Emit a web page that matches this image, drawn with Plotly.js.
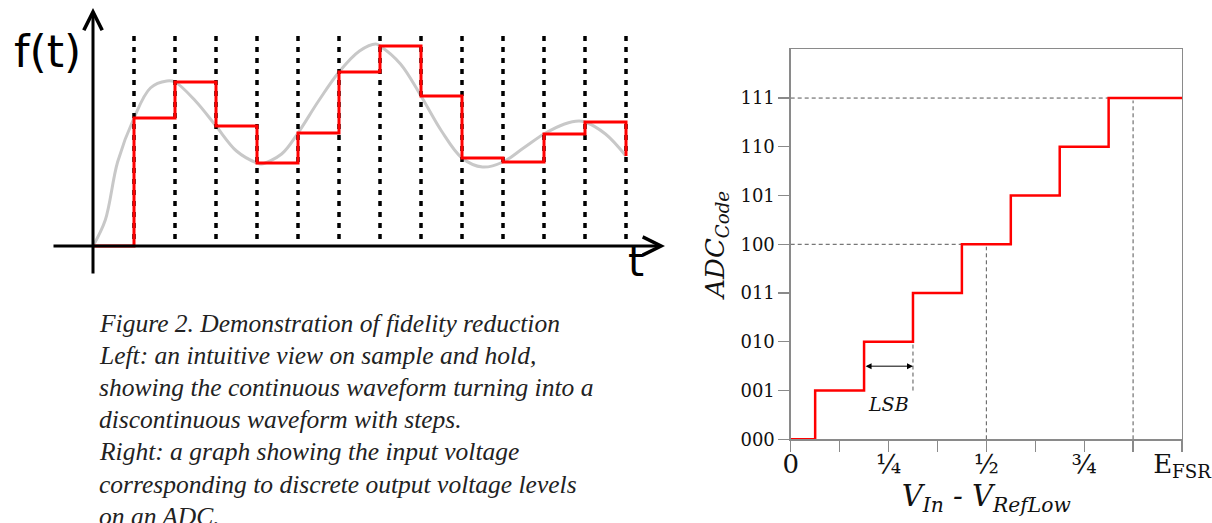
<!DOCTYPE html>
<html>
<head>
<meta charset="utf-8">
<script src="https://cdn.plot.ly/plotly-3.0.1.min.js"></script>
<style>html,body{margin:0;padding:0;background:#fff;}#chart{width:1212px;height:523px;}</style>
</head>
<body>
<div id="chart"></div>
<script>
// ---------- Left: sample and hold ----------
var sampleT = [0, 1, 2, 3, 4, 5, 6, 7, 8, 9, 10, 11, 12, 13];
var sampleF = [0, 128, 164, 120, 83, 113, 174, 200, 150, 88, 84, 112, 124, 90];
var curveT = [0, 0.3, 0.6, 1, 1.4, 1.8, 2, 2.5, 3, 3.5, 4, 4.1, 4.6, 5, 5.5, 6, 6.5, 6.9, 7, 7.5, 8, 8.5, 9, 9.5, 10, 10.5, 11, 11.5, 11.85, 12, 12.5, 13];
var curveF = [0, 26, 84, 128, 158, 165, 164, 145, 120, 95, 83, 82, 92, 113, 145, 174, 195, 202, 200, 182, 150, 115, 88, 79, 84, 98, 112, 122, 125, 124, 112, 90];
var gridTop = 210;
var captionLines = [
  "Figure 2. Demonstration of fidelity reduction",
  "Left: an intuitive view on sample and hold,",
  "showing the continuous waveform turning into a",
  "discontinuous waveform with steps.",
  "Right: a graph showing the input voltage",
  "corresponding to discrete output voltage levels",
  "on an ADC."
];

// ---------- Right: ADC transfer ----------
var adcCodes = ["000", "001", "010", "011", "100", "101", "110", "111"];
var adcEdges = [0, 1/16, 3/16, 5/16, 7/16, 9/16, 11/16, 13/16, 1];
var adcLevels = [0, 1, 2, 3, 4, 5, 6, 7, 7];
var xTickVals = [0, 1/8, 2/8, 3/8, 4/8, 5/8, 6/8, 7/8, 1];
var xTickText = ["0", "", "¼", "", "½", "", "¾", "", "E<sub>FSR</sub>"];
var guideHLevels = [4, 7];
var guideVX = [1/2, 7/8];

// pixel helpers for left panel
var LX0 = 93, LPX = 41, LY0 = 246;
function tOf(px){ return (px - LX0) / LPX; }
function fOf(py){ return LY0 - py; }

var traces = [];
traces.push({x: curveT, y: curveF, type: 'scatter', mode: 'lines',
  line: {color: '#c8c8c8', width: 3, shape: 'spline'}, xaxis: 'x', yaxis: 'y', hoverinfo: 'skip'});
var dx = [], dy = [];
for (var i = 1; i < sampleT.length; i++) { dx.push(sampleT[i], sampleT[i], null); dy.push(gridTop, 0, null); }
traces.push({x: dx, y: dy, type: 'scatter', mode: 'lines',
  line: {color: '#000', width: 3.5, dash: '5px,6px'}, xaxis: 'x', yaxis: 'y', hoverinfo: 'skip'});
traces.push({x: sampleT, y: sampleF, type: 'scatter', mode: 'lines',
  line: {color: '#ff0000', width: 3, shape: 'hv'}, xaxis: 'x', yaxis: 'y', hoverinfo: 'skip'});
traces.push({x: adcEdges, y: adcLevels, type: 'scatter', mode: 'lines',
  line: {color: '#ff0000', width: 2.5, shape: 'hv'}, xaxis: 'x2', yaxis: 'y2', hoverinfo: 'skip'});

var shapes = [];
var dashLine = {color: '#555', width: 1, dash: '4px,3px'};
guideHLevels.forEach(function(lv){
  var xe = adcEdges[adcLevels.indexOf(lv)];
  shapes.push({type: 'line', xref: 'x2', yref: 'y2', x0: 0, x1: xe, y0: lv, y1: lv, line: dashLine, layer: 'below'});
});
guideVX.forEach(function(xv){
  var lv = Math.floor(xv * 8);
  shapes.push({type: 'line', xref: 'x2', yref: 'y2', x0: xv, x1: xv, y0: 0, y1: lv - 0.05, line: dashLine, layer: 'below'});
});
shapes.push({type: 'line', xref: 'x2', yref: 'y2', x0: adcEdges[3], x1: adcEdges[3], y0: adcLevels[1], y1: adcLevels[2], line: dashLine, layer: 'below'});

var annotations = [];
// left axes with arrows
annotations.push({xref: 'x', yref: 'y', axref: 'x', ayref: 'y', x: tOf(665), y: 0, ax: tOf(52), ay: 0,
  text: '', showarrow: true, arrowhead: 5, arrowsize: 1.2, arrowwidth: 3, arrowcolor: '#000', standoff: 0});
annotations.push({xref: 'x', yref: 'y', axref: 'x', ayref: 'y', x: 0, y: fOf(8), ax: 0, ay: fOf(275),
  text: '', showarrow: true, arrowhead: 5, arrowsize: 1.2, arrowwidth: 3, arrowcolor: '#000', standoff: 0});
annotations.push({xref: 'x', yref: 'y', x: tOf(47), y: fOf(51), text: 'f(t)', showarrow: false,
  font: {family: 'DejaVu Sans', size: 44, color: '#000'}});
annotations.push({xref: 'x', yref: 'y', x: tOf(636), y: fOf(262), text: 't', showarrow: false,
  font: {family: 'DejaVu Sans', size: 41, color: '#000'}});
// caption
captionLines.forEach(function(s, k){
  annotations.push({xref: 'paper', yref: 'paper', x: 97/1212, y: 1 - (323 + 32.2*k)/523, xanchor: 'left', yanchor: 'middle',
    text: s, showarrow: false, font: {family: 'Liberation Serif', size: 25.5, color: '#222', style: 'italic'}});
});
// LSB arrow
annotations.push({xref: 'x2', yref: 'y2', axref: 'x2', ayref: 'y2', x: adcEdges[3], y: 1.5, ax: adcEdges[2], ay: 1.5,
  text: '', showarrow: true, arrowhead: 2, arrowside: 'end+start', arrowsize: 1.2, arrowwidth: 1, arrowcolor: '#000', standoff: 0, startstandoff: 0});
annotations.push({xref: 'x2', yref: 'y2', x: (adcEdges[2] + adcEdges[3]) / 2, y: 0.72, text: 'LSB', showarrow: false,
  font: {family: 'DejaVu Serif', size: 19, color: '#111', style: 'italic'}});

var layout = {
  width: 1212, height: 523, margin: {l: 0, r: 0, t: 0, b: 0},
  paper_bgcolor: '#fff', plot_bgcolor: 'rgba(0,0,0,0)', showlegend: false,
  xaxis: {domain: [0, 700/1212], range: [tOf(0), tOf(700)], visible: false, fixedrange: true},
  yaxis: {domain: [0, 1], range: [fOf(523), fOf(0)], visible: false, fixedrange: true},
  xaxis2: {domain: [790.7/1212, 1182/1212], range: [0, 1], anchor: 'y2',
    showline: true, mirror: true, linecolor: '#8a8a8a', linewidth: 1.3,
    ticks: 'outside', ticklen: 11, tickcolor: '#8a8a8a', tickwidth: 1.3,
    tickvals: xTickVals, ticktext: xTickText, showgrid: false, zeroline: false,
    ticklabelstandoff: -10, ticklabeloverflow: 'allow',
    tickfont: {family: 'DejaVu Serif', size: 26, color: '#111'},
    title: {text: '<i>V<sub>In</sub> - V<sub>RefLow</sub></i>', standoff: 0,
      font: {family: 'DejaVu Serif', size: 29, color: '#111', style: 'italic'}}},
  yaxis2: {domain: [(523-439.3)/523, (523-49.3)/523], range: [0, 8], anchor: 'x2',
    showline: true, mirror: true, linecolor: '#8a8a8a', linewidth: 1.3,
    ticks: 'outside', ticklen: 11, tickcolor: '#8a8a8a', tickwidth: 1.3,
    tickvals: [0, 1, 2, 3, 4, 5, 6, 7], ticktext: adcCodes, showgrid: false, zeroline: false,
    tickfont: {family: 'DejaVu Serif', size: 18, color: '#111'},
    title: {text: 'ADC<sub>Code</sub>', standoff: 8,
      font: {family: 'DejaVu Serif', size: 26, color: '#111', style: 'italic'}}},
  shapes: shapes, annotations: annotations
};
Plotly.newPlot('chart', traces, layout, {staticPlot: true, displayModeBar: false});
</script>
</body>
</html>
